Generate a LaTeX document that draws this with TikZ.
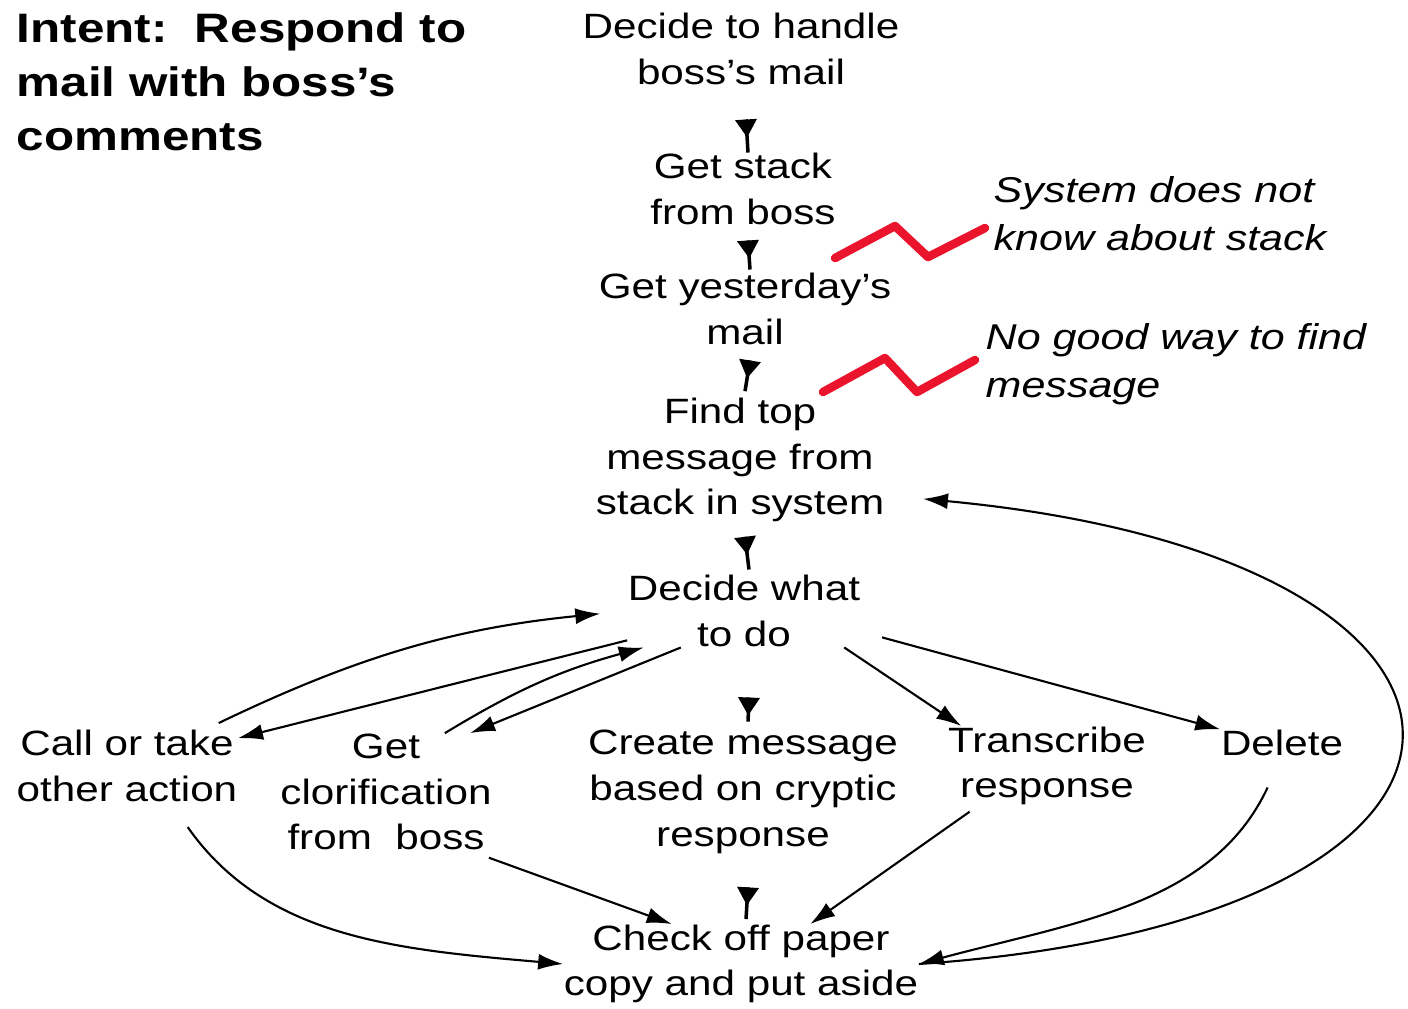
\documentclass[tikz,border=0pt]{standalone}
\usepackage{fontspec}
\setmainfont[FakeStretch=1.2]{Liberation Sans}
\usetikzlibrary{arrows.meta,decorations.markings}
\definecolor{gripered}{RGB}{235,20,45}
\tikzset{
    stepnode/.style={inner sep=0pt, align=center, font=\fontsize{10}{13}\selectfont},
    note/.style={anchor=north west, inner sep=0pt, align=left, font=\itshape\fontsize{10.2}{13.6}\selectfont},
    link/.style={line width=0.6pt, -{Latex[length=0.25cm,width=0.16cm]}},
    downlink/.style={line width=1pt, postaction={decorate},
        decoration={markings, mark=at position 0.18cm with {\arrow{Triangle[length=0.18cm,width=0.21cm]}}}},
    gripe/.style={draw=gripered, line width=0.085cm, line join=round, line cap=round}
}
\begin{document}
\begin{tikzpicture}[x=0.01cm, y=0.01cm]
    \useasboundingbox (0,0) rectangle (1408,-1008);
    %\draw[thin, dashed] (0,0) rectangle (1408,-1008);
    \node[anchor=north west, inner sep=0pt, align=left, font=\bfseries\fontsize{11.7}{15.3}\selectfont]
        (intent) at (16,-12) {Intent:\ \ Respond to\\mail with boss’s\\comments};
    \node[stepnode] (decide) at (741,-49) {Decide to handle\\boss's mail};
    \node[stepnode] (stack) at (743,-189) {Get stack\\from boss};
    \node[stepnode] (yest) at (745,-309) {Get yesterday's\\mail};
    \node[stepnode] (find) at (740,-460) {Find top\\message from\\stack in system};
    \node[stepnode] (what) at (744,-611) {Decide what\\to do};
    \node[stepnode] (call) at (127,-766) {Call or take\\other action};
    \node[stepnode] (clar) at (386,-792) {Get\\clorification\\from\ \ boss};
    \node[stepnode] (create) at (743,-792) {Create message\\based on cryptic\\response};
    \node[stepnode] (trans) at (1047,-766) {Transcribe\\response};
    \node[stepnode] (delete) at (1282,-743) {Delete};
    \node[stepnode] (check) at (741,-964) {Check off paper\\copy and put aside};
    \node[note] (nostack) at (993,-176) {System does not\\know about stack};
    \node[note] (nofind) at (985,-323) {No good way to find\\message};
    % main sequence
    \foreach \a/\b/\s/\e in {decide/stack/0.34cm/0cm, stack/yest/0.15cm/0.03cm,
            yest/find/0.15cm/0.06cm, find/what/0.14cm/0.05cm,
            what/create/0.5cm/0.08cm, create/check/0.33cm/0.05cm}
        \draw[downlink] ([shift={(0.05cm,-\s)}]\a.south) -- ([shift={(0.05cm,\e)}]\b.north);
    % branches out of "Decide what to do"
    \draw[link, shorten <=0.15cm, shorten >=0.27cm] (call.25) to[bend left=10] (what.west);
    \draw[link] (what) -- (call);
    \draw[link] (clar.45) to[bend left=8] (what.-160);
    \draw[link] (what.-150) -- (clar.35);
    \draw[link] (what.-20) -- (trans.155);
    \draw[link, shorten <=0.22cm] (what.-10) -- (delete.north west);
    % back to the paper copy
    \draw[link, shorten <=0.3cm] (call.-40) to[out=-55, in=175] (check.west);
    \draw[link, shorten <=0.2cm] (clar.-35) -- (check.150);
    \draw[link, shorten <=0.1cm] (trans.-150) -- (check.30);
    \draw[link, shorten <=0.34cm] (delete.south) to[out=-115, in=15] (check.east);
    \draw[link] (check.east) .. controls +(642,44) and +(635,-60) .. ([xshift=0.38cm]find.-15);
    % trouble spots
    \draw[gripe] (835,-258) -- (895,-226) -- (928,-257) -- (985,-228);
    \draw[gripe] (823,-392) -- (885,-358) -- (917,-392) -- (975,-360);
\end{tikzpicture}
\end{document}
